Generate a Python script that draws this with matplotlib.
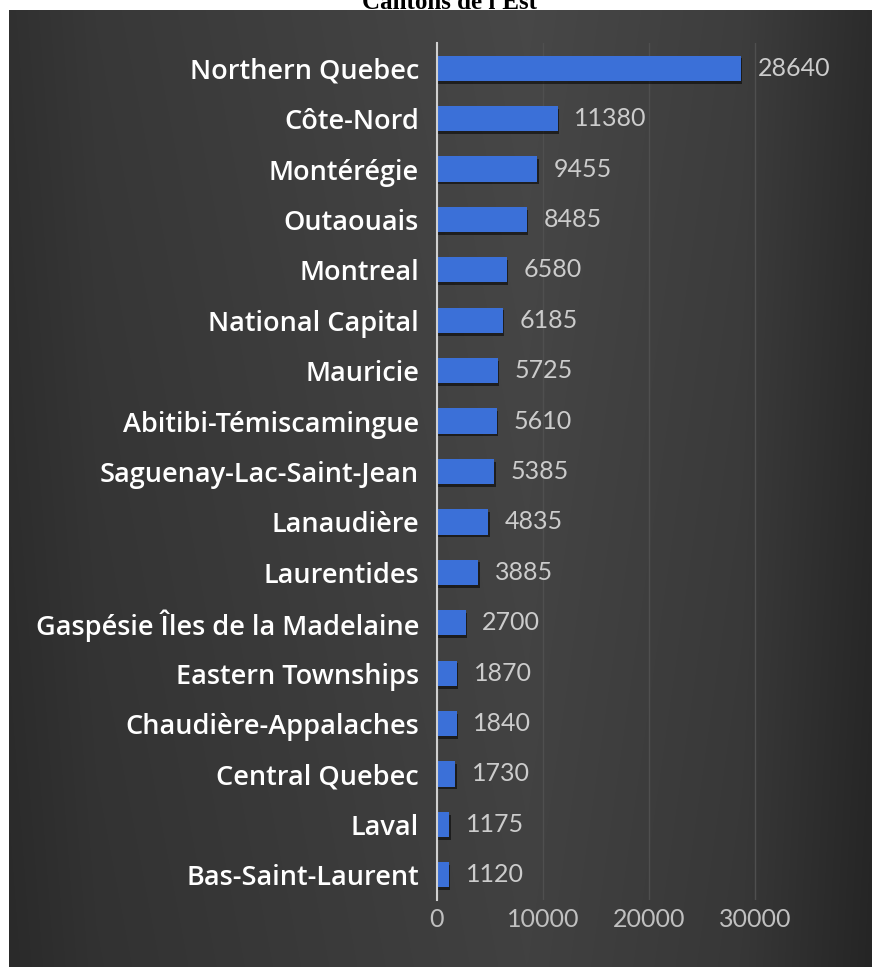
import numpy as np
import matplotlib.pyplot as plt
import matplotlib.patheffects as pe

regions = ['Northern Quebec', 'Côte-Nord', 'Montérégie', 'Outaouais', 'Montreal',
           'National Capital', 'Mauricie', 'Abitibi-Témiscamingue',
           'Saguenay-Lac-Saint-Jean', 'Lanaudière', 'Laurentides',
           'Gaspésie Îles de la Madelaine', 'Eastern Townships',
           'Chaudière-Appalaches', 'Central Quebec', 'Laval', 'Bas-Saint-Laurent']
values = [28640, 11380, 9455, 8485, 6580, 6185, 5725, 5610, 5385, 4835,
          3885, 2700, 1870, 1840, 1730, 1175, 1120]
xticks = [0, 10000, 20000, 30000]

W, H = 872, 967
fig = plt.figure(figsize=(W / 100, H / 100), dpi=100, facecolor='white')

# title sits above the dark panel, mostly hidden behind it
fig.text(450 / W, 1 - 9 / H, "Cantons de l'Est", ha='center', va='baseline',
         family='Liberation Serif', weight='bold', fontsize=18, color='black')

# dark gradient panel
bg = fig.add_axes([9 / W, 0, 1 - 9 / W, 1 - 10 / H], zorder=1)
xs = np.linspace(0, 1, 400)
prof = np.interp(xs, [0, 0.1, 0.6, 0.85, 1.0], [0.19, 0.22, 0.28, 0.24, 0.17])
ys = np.linspace(0, 1, 300)[:, None]
grad = prof[None, :] - 0.025 * ys
img = np.dstack([grad, grad, grad])
bg.imshow(img, aspect='auto', extent=[0, 1, 0, 1], interpolation='bilinear')
bg.axis('off')

left = 437 / W
top = 1 - 43 / H
bottom = 1 - 900 / H
ax = fig.add_axes([left, bottom, 1 - left, top - bottom], zorder=2)
ax.patch.set_alpha(0)

y = np.arange(len(regions))
bars = ax.barh(y, values, height=0.5, color='#3b70d8', zorder=3)
for b in bars:
    b.set_path_effects([pe.SimplePatchShadow(offset=(1, -2), shadow_rgbFace='black', alpha=0.55),
                        pe.Normal()])

for yi, v in zip(y, values):
    ax.annotate(str(v), (v, yi), xytext=(12, 0), textcoords='offset points',
                va='center', ha='left', color='#cccccc', fontsize=18, family='Lato')

ax.set_ylim(len(regions) - 0.5, -0.5)
ax.set_xlim(0, 41000)
ax.set_xticks(xticks)
ax.set_xticklabels([str(t) for t in xticks])
ax.set_yticks(y)
ax.set_yticklabels(regions)

for lab in ax.get_yticklabels():
    lab.set_family('Open Sans')
    lab.set_weight('semibold')
    lab.set_fontsize(19.5)
    lab.set_color('white')
for lab in ax.get_xticklabels():
    lab.set_family('Lato')
    lab.set_fontsize(18)
    lab.set_color('#c0c0c0')

ax.tick_params(axis='y', length=0, pad=13)
ax.tick_params(axis='x', length=0, pad=6)
ax.grid(axis='x', color='#4f4f4f', linewidth=1, zorder=0)
ax.set_axisbelow(True)
for s in ['top', 'right', 'bottom']:
    ax.spines[s].set_visible(False)
ax.spines['left'].set_color('#d0d0d0')
ax.spines['left'].set_linewidth(1.5)
ax.spines['left'].set_zorder(4)

fig.savefig('out.png', dpi=100, facecolor='white')
